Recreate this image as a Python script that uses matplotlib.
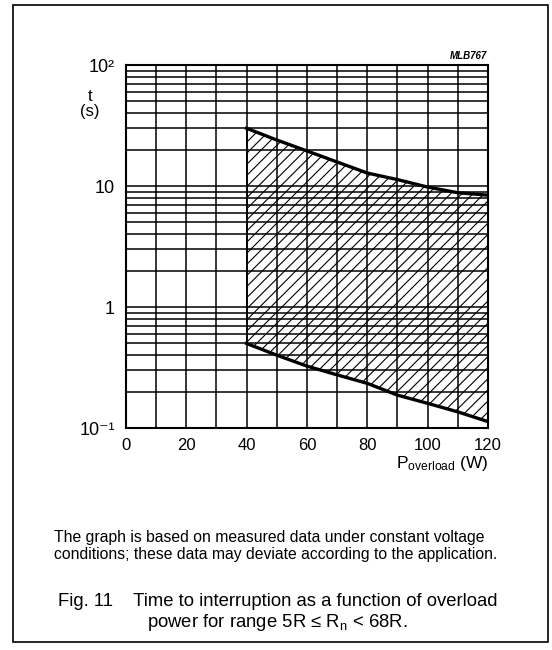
import matplotlib.pyplot as plt
import matplotlib.patches as mpatches
import numpy as np

# Values
power = [40, 50, 60, 70, 80, 90, 100, 110, 120]
t_upper = [30.0, 24.0, 19.5, 15.8, 12.8, 11.3, 9.8, 8.8, 8.4]
t_lower = [0.50, 0.40, 0.325, 0.275, 0.234, 0.187, 0.160, 0.136, 0.113]

x_ticks = [0, 20, 40, 60, 80, 100, 120]
y_ticks = [0.1, 1, 10, 100]
y_ticklabels = ['10\u207b\u00b9', '1', '10', '10\u00b2']

plt.rcParams['font.family'] = ['Liberation Sans', 'DejaVu Sans']
plt.rcParams['mathtext.fontset'] = 'custom'
plt.rcParams['mathtext.rm'] = 'Liberation Sans'
plt.rcParams['mathtext.it'] = 'Liberation Sans:italic'
plt.rcParams['mathtext.bf'] = 'Liberation Sans:bold'
plt.rcParams['mathtext.default'] = 'regular'
plt.rcParams['hatch.linewidth'] = 0.8

fig = plt.figure(figsize=(5.52, 6.5), dpi=100)
ax = fig.add_axes([0.228, 0.3415, 0.656, 0.5585])

ax.set_yscale('log')
ax.set_xlim(0, 120)
ax.set_ylim(0.1, 100)

# grid: every 10 W, log minor lines in each decade
ax.set_xticks(x_ticks)
ax.set_xticks(np.arange(0, 121, 10), minor=True)
ax.set_yticks(y_ticks)
ax.set_yticklabels(y_ticklabels)
ax.grid(which='both', axis='both', color='black', linewidth=1.1)
ax.set_axisbelow(False)
ax.tick_params(which='both', length=0)
ax.tick_params(axis='x', pad=7, labelsize=12)
ax.tick_params(axis='y', pad=8, labelsize=13)
ax.yaxis.set_minor_formatter(plt.NullFormatter())
for s in ax.spines.values():
    s.set_linewidth(1.5)

# hatched area between the two curves
ax.fill_between(power, t_lower, t_upper, facecolor='none', edgecolor='black',
                hatch='///', linewidth=0)
ax.plot(power, t_upper, color='black', linewidth=2.4)
ax.plot(power, t_lower, color='black', linewidth=2.4)
ax.plot([power[0], power[0]], [t_lower[0], t_upper[0]], color='black', linewidth=1.2)

fig.text(0.163, 0.84, 't\n(s)', ha='center', va='center', fontsize=12,
         linespacing=1.0)
fig.text(0.885, 0.287, '$\\mathregular{P_{overload}}$ (W)', ha='right', va='center',
         fontsize=12.5)
fig.text(0.882, 0.906, 'MLB767', ha='right', va='bottom', fontsize=7,
         style='italic', weight='bold')

fig.text(0.098, 0.16, 'The graph is based on measured data under constant voltage\n'
         'conditions; these data may deviate according to the application.',
         ha='left', va='center', fontsize=11.3, linespacing=1.15)
fig.text(0.503, 0.057, 'Fig. 11    Time to interruption as a function of overload\n'
         'power for range 5R \u2264 $\\mathregular{R_n}$ < 68R.',
         ha='center', va='center', fontsize=13.3, linespacing=1.1)

# frame around the whole figure
fig.patches.append(mpatches.Rectangle((13 / 552, 1 - 642 / 650), 535 / 552, 637 / 650,
                                      transform=fig.transFigure, fill=False,
                                      edgecolor='black', linewidth=1.2))

fig.savefig('out.png', dpi=100)
